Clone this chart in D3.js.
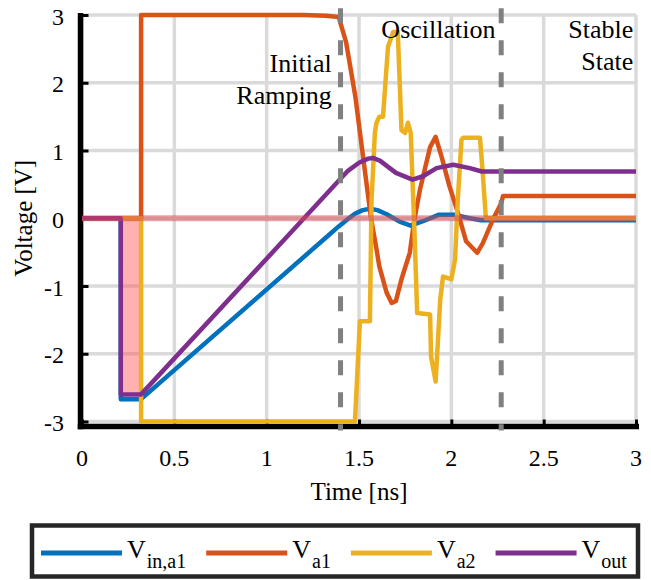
<!DOCTYPE html>
<html><head><meta charset="utf-8">
<script src="https://cdn.jsdelivr.net/npm/d3@7"></script>
</head><body style="margin:0">
<svg id="c" width="651" height="580" style="display:block;font-family:&quot;Liberation Serif&quot;"></svg>
<script>
// ---------- data ----------
const seriesMain = ["V","V","V","V"];
const seriesSub = ["in,a1","a1","a2","out"];
const seriesColors = ["#0072BD","#D95319","#EDB120","#7E2F8E"];

const vinA1T = [0,0.21,0.21,0.32,1.34,1.39,1.44,1.48,1.52,1.56,1.60,1.65,1.72,1.78,1.85,1.93,2.02,2.10,2.16,3];
const vinA1V = [0,0,-2.67,-2.67,-0.24,-0.12,-0.01,0.07,0.12,0.14,0.12,0.06,-0.05,-0.11,-0.04,0.05,0.05,0.0,-0.03,-0.03];

const va1T = [0,0.32,0.32,1.20,1.32,1.39,1.43,1.48,1.52,1.565,1.595,1.61,1.65,1.677,1.70,1.73,1.775,1.80,1.83,1.885,1.915,1.947,1.99,2.036,2.08,2.14,2.17,2.225,2.27,2.28,3];
const va1V = [0,0,3,3,2.99,2.97,2.6,1.8,0.95,0.0,-0.46,-0.71,-1.1,-1.25,-1.22,-0.9,-0.51,-0.02,0.42,1.05,1.2,0.91,0.47,0.08,-0.34,-0.51,-0.37,-0.02,0.22,0.33,0.33];

const va2T = [0,0.32,0.32,1.478,1.505,1.559,1.568,1.586,1.595,1.61,1.63,1.657,1.685,1.71,1.73,1.75,1.765,1.78,1.80,1.815,1.885,1.89,1.915,1.94,1.955,2.0,2.02,2.035,2.055,2.065,2.155,2.17,2.187,3];
const va2V = [0,0,-3,-3,-1.52,-1.52,0.27,1.26,1.41,1.5,1.5,2.53,2.75,2.75,1.3,1.26,1.41,1.26,-0.17,-1.4,-1.42,-2.04,-2.41,-1.2,-0.86,-0.9,-0.61,0.27,1.16,1.19,1.19,0.67,0.0,0.0];

const voutT = [0,0.21,0.21,0.32,1.44,1.50,1.55,1.575,1.613,1.70,1.79,1.847,1.92,2.01,2.10,2.165,3];
const voutV = [0,0,-2.6,-2.6,0.70,0.82,0.88,0.89,0.85,0.67,0.57,0.62,0.74,0.79,0.74,0.69,0.69];

const xTickValues = [0,0.5,1,1.5,2,2.5,3];
const xTickLabels = ["0","0.5","1","1.5","2","2.5","3"];
const yTickValues = [-3,-2,-1,0,1,2,3];
const yTickLabels = ["-3","-2","-1","0","1","2","3"];

const phaseBoundaries = [1.40, 2.27];
const phaseLabels = [["Initial","Ramping"],["Oscillation"],["Stable","State"]];
const phaseLabelT = [1.352, 1.93, 2.985];
const phaseAnchor = ["end","middle","end"];

const highlightT = [0.21, 0.32];
const highlightV = [-2.6, 0];
const referenceV = 0;

const xLabel = "Time [ns]";
const yLabel = "Voltage [V]";

// ---------- chart ----------
const FONT = '"Liberation Serif"';
const svg = d3.select("#c");
const x = d3.scaleLinear().domain([0,3]).range([82,636]);
const y = d3.scaleLinear().domain([-3,3]).range([421.5,15]);
const axisX = 80.5, axisY = 426.5;

const series = [
  {t: vinA1T, v: vinA1V},
  {t: va1T, v: va1V},
  {t: va2T, v: va2V},
  {t: voutT, v: voutV}
];

function txt(sel){ return sel.style("font-family", FONT).attr("fill","#000"); }

// grid
const grid = svg.append("g").attr("stroke","#dadada").attr("stroke-width",3.5);
grid.selectAll("line.gx").data(xTickValues).join("line")
  .attr("x1",d=>x(d)).attr("x2",d=>x(d)).attr("y1",y(3)).attr("y2",y(-3));
grid.selectAll("line.gy").data(yTickValues).join("line")
  .attr("y1",d=>y(d)).attr("y2",d=>y(d)).attr("x1",x(0)).attr("x2",x(3));

// highlight fill
svg.append("rect")
  .attr("x",x(highlightT[0])).attr("width",x(highlightT[1])-x(highlightT[0]))
  .attr("y",y(highlightV[1])).attr("height",y(highlightV[0])-y(highlightV[1]))
  .attr("fill","rgba(255,80,80,0.45)");

// axes: tick marks via d3 axes, labels as plain texts
const xa = d3.axisBottom(x).tickValues(xTickValues).tickFormat("").tickSize(-7).tickSizeOuter(0);
const ya = d3.axisLeft(y).tickValues(yTickValues).tickFormat("").tickSize(-8).tickSizeOuter(0);
const gx = svg.append("g").attr("transform",`translate(0,${axisY})`).call(xa);
const gy = svg.append("g").attr("transform",`translate(${axisX},0)`).call(ya);
[gx,gy].forEach(g=>{
  g.select(".domain").remove();
  g.selectAll(".tick text").remove();
  g.selectAll(".tick line").attr("stroke","#000").attr("stroke-width",3);
});
svg.append("line").attr("x1",axisX).attr("x2",axisX).attr("y1",y(3)-2).attr("y2",axisY+2.75)
  .attr("stroke","#000").attr("stroke-width",5.5);
svg.append("line").attr("x1",axisX-2.75).attr("x2",x(3)+3).attr("y1",axisY).attr("y2",axisY)
  .attr("stroke","#000").attr("stroke-width",5.5);
xTickValues.forEach((v,i)=>{
  txt(svg.append("text")).attr("x",x(v)).attr("y",axisY+39.5).attr("text-anchor","middle")
    .attr("font-size",24).text(xTickLabels[i]);
});
yTickValues.forEach((v,i)=>{
  txt(svg.append("text")).attr("x",axisX-16.5).attr("y",y(v)+9.5).attr("text-anchor","end")
    .attr("font-size",24).text(yTickLabels[i]);
});

// series
const line = d3.line().x(d=>x(d[0])).y(d=>y(d[1]));
svg.append("g").selectAll("path").data(series).join("path")
  .attr("d",s=>line(s.t.map((t,i)=>[t,s.v[i]])))
  .attr("fill","none").attr("stroke",(s,i)=>seriesColors[i])
  .attr("stroke-width",4.5).attr("stroke-linejoin","round");

// reference line
svg.append("line").attr("x1",x(0)).attr("x2",x(3)).attr("y1",y(referenceV)).attr("y2",y(referenceV))
  .attr("stroke","rgb(220,70,80)").attr("stroke-opacity",0.5).attr("stroke-width",6);

// phase boundaries
svg.append("g").selectAll("line").data(phaseBoundaries).join("line")
  .attr("x1",d=>x(d)).attr("x2",d=>x(d)).attr("y1",y(3.1)).attr("y2",axisY+4)
  .attr("stroke","#808080").attr("stroke-width",5).attr("stroke-dasharray","15,17");

// phase labels
phaseLabels.forEach((lines,i)=>{
  const base = i===0 ? 72 : 38;
  lines.forEach((s,j)=>{
    txt(svg.append("text")).attr("x",x(phaseLabelT[i])).attr("y",base+32*j)
      .attr("text-anchor",phaseAnchor[i]).attr("font-size",26).text(s);
  });
});

// axis labels
txt(svg.append("text")).attr("x",(x(0)+x(3))/2).attr("y",500).attr("text-anchor","middle")
  .attr("font-size",25).text(xLabel);
txt(svg.append("text")).attr("transform",`translate(32,${y(0)}) rotate(-90)`).attr("text-anchor","middle")
  .attr("font-size",25).text(yLabel);

// legend
svg.append("rect").attr("x",32).attr("y",525.5).attr("width",606).attr("height",51)
  .attr("fill","#fff").attr("stroke","#262626").attr("stroke-width",4.5);
let cx = 41;
seriesMain.forEach((m,i)=>{
  svg.append("line").attr("x1",cx).attr("x2",cx+81).attr("y1",553).attr("y2",553)
    .attr("stroke",seriesColors[i]).attr("stroke-width",5);
  const t = txt(svg.append("text")).attr("x",cx+86).attr("y",558).attr("font-size",26);
  t.append("tspan").text(m);
  t.append("tspan").attr("dy",10).attr("dx",1).attr("font-size",20).text(seriesSub[i]);
  const w = t.node().getComputedTextLength();
  cx = cx + 86 + w + 21;
});
</script>
</body></html>
